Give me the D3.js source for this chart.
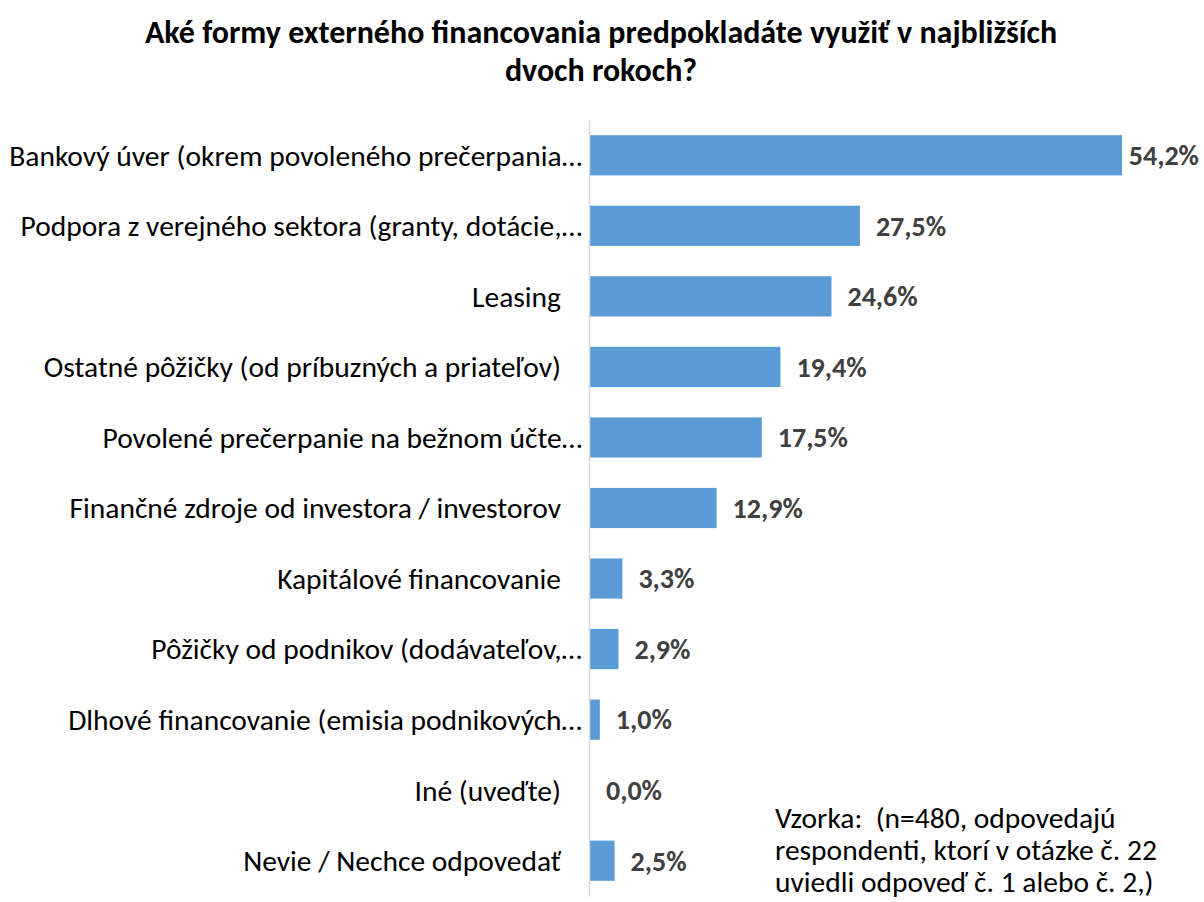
<!DOCTYPE html>
<html>
<head>
<meta charset="utf-8">
<script src="https://cdn.jsdelivr.net/npm/d3@7"></script>
<style>
  html, body { margin: 0; padding: 0; background: #fff; }
  svg { display: block; }
</style>
</head>
<body>
<svg id="chart" width="1204" height="902"></svg>
<script>
const titleLines = ["Aké formy externého financovania predpokladáte využiť v najbližších", "dvoch rokoch?"];
const categories = [
  "Bankový úver (okrem povoleného prečerpania…",
  "Podpora z verejného sektora (granty, dotácie,…",
  "Leasing",
  "Ostatné pôžičky (od príbuzných a priateľov)",
  "Povolené prečerpanie na bežnom účte…",
  "Finančné zdroje od investora / investorov",
  "Kapitálové financovanie",
  "Pôžičky od podnikov (dodávateľov,…",
  "Dlhové financovanie (emisia podnikových…",
  "Iné (uveďte)",
  "Nevie / Nechce odpovedať"
];
const values = [54.2, 27.5, 24.6, 19.4, 17.5, 12.9, 3.3, 2.9, 1.0, 0.0, 2.5];
const noteLines = ["Vzorka:  (n=480, odpovedajú", "respondenti, ktorí v otázke č. 22", "uviedli odpoveď č. 1 alebo č. 2,)"];

const FONT = "Carlito, Calibri, Lato, 'Open Sans', sans-serif";
const svg = d3.select("#chart");

const x0 = 590, xMaxPx = 1122;
const x = d3.scaleLinear().domain([0, 54.2]).range([x0, xMaxPx]);
const y = d3.scaleBand().domain(categories).range([120, 896]).paddingInner(0.43).paddingOuter(0.215);

// Title
svg.append("g").selectAll("text").data(titleLines).join("text")
  .attr("x", 601).attr("y", (d, i) => 43 + i * 38)
  .attr("text-anchor", "middle")
  .attr("font-family", FONT).attr("font-weight", "bold").attr("font-size", 32)
  .attr("fill", "#000").text(d => d);

// Bars
svg.append("g").selectAll("rect").data(values).join("rect")
  .attr("x", x(0))
  .attr("y", (d, i) => y(categories[i]))
  .attr("width", d => x(d) - x(0))
  .attr("height", y.bandwidth())
  .attr("fill", "#5B9BD5");

// Axis line
const yAxis = d3.axisLeft(y).tickSize(0).tickFormat("");
const ga = svg.append("g").attr("transform", `translate(${x0 - 1},0)`).call(yAxis);
ga.select(".domain").attr("stroke", "#D9D9D9").attr("stroke-width", 1.5);

// Category labels
svg.append("g").selectAll("text").data(categories).join("text")
  .attr("x", d => d.endsWith("…") ? x0 - 8 : x0 - 29)
  .attr("y", d => y(d) + y.bandwidth() / 2)
  .attr("dy", "0.35em")
  .attr("text-anchor", "end")
  .attr("font-family", FONT).attr("font-size", 29.5)
  .attr("fill", "#000").text(d => d);

// Value labels
svg.append("g").selectAll("text").data(values).join("text")
  .attr("y", (d, i) => y(categories[i]) + y.bandwidth() / 2)
  .attr("dy", "0.35em")
  .attr("font-family", FONT).attr("font-weight", "bold").attr("font-size", 28)
  .attr("fill", "#404040")
  .text(d => d.toFixed(1).replace(".", ",") + "%")
  .attr("x", function(d) {
    const w = this.getComputedTextLength();
    return Math.min(x(d) + 16, 1199 - w);
  });

// Note (single text block with lines)
const note = svg.append("text")
  .attr("x", 775).attr("y", 828)
  .style("white-space", "pre")
  .attr("font-family", FONT).attr("font-size", 29.5)
  .attr("fill", "#000");
note.selectAll("tspan").data(noteLines).join("tspan")
  .attr("x", 775).attr("dy", (d, i) => i === 0 ? 0 : 32)
  .text(d => d);
</script>
</body>
</html>
